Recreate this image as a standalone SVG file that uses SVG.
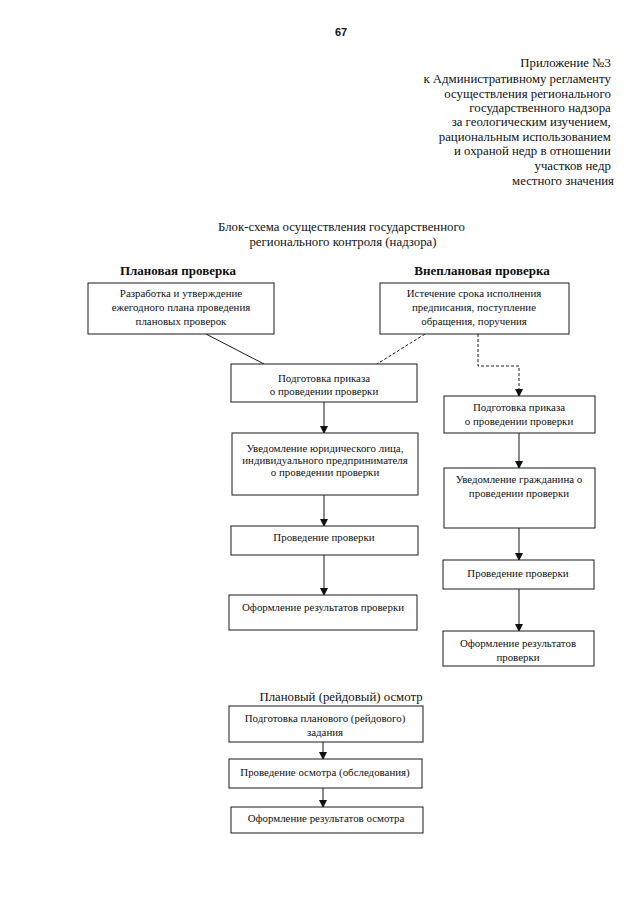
<svg xmlns="http://www.w3.org/2000/svg" width="640" height="905" viewBox="0 0 640 905">
<defs>
<style>
.bx{fill:#fff;stroke:#1a1a1a;stroke-width:1}
.t{font-family:"Liberation Serif","Times New Roman",serif;font-size:10.9px;fill:#111;text-anchor:middle}
.h{font-family:"Liberation Serif","Times New Roman",serif;font-size:12.8px;fill:#111}
.hb{font-family:"Liberation Serif","Times New Roman",serif;font-size:13px;font-weight:bold;fill:#111;text-anchor:middle}
.c{stroke:#1a1a1a;stroke-width:1;fill:none}
.d{stroke:#1a1a1a;stroke-width:1;fill:none;stroke-dasharray:3,2}
</style>
<marker id="ar" viewBox="0 0 8 8" refX="7" refY="4" markerWidth="8" markerHeight="8" markerUnits="userSpaceOnUse" orient="auto">
<path d="M0,0 L8,4 L0,8 z" fill="#111"/>
</marker>
</defs>
<rect width="640" height="905" fill="#fff"/>

<g id="header">
<text x="341" y="36" style="font-family:'Liberation Sans',Arial,sans-serif;font-size:11px;font-weight:bold;fill:#111" text-anchor="middle">67</text>
<text class="h" text-anchor="end">
<tspan x="614" y="67">Приложение №3</tspan>
<tspan x="614" y="83">к Административному регламенту</tspan>
<tspan x="614" y="98">осуществления регионального</tspan>
<tspan x="614" y="112">государственного надзора</tspan>
<tspan x="614" y="126">за геологическим изучением,</tspan>
<tspan x="614" y="141">рациональным использованием</tspan>
<tspan x="614" y="155">и охраной недр в отношении</tspan>
<tspan x="614" y="170">участков недр</tspan>
<tspan x="614" y="185">местного значения</tspan>
</text>
<text class="h" text-anchor="middle">
<tspan x="343" y="231">Блок-схема осуществления государственного</tspan>
<tspan x="343" y="246">регионального контроля (надзора)</tspan>
</text>
<text class="hb" x="178" y="275">Плановая проверка</text>
<text class="hb" x="482" y="275">Внеплановая проверка</text>
<text class="h" x="341" y="701" text-anchor="middle">Плановый (рейдовый) осмотр</text>
</g>

<g id="connectors">
<line class="c" x1="206" y1="334" x2="264" y2="364"/>
<line class="d" x1="425" y1="334" x2="377" y2="364"/>
<polyline class="d" points="478,334 478,366 519,366 519,396" marker-end="url(#ar)"/>
<line class="c" x1="324" y1="402" x2="324" y2="433" marker-end="url(#ar)"/>
<line class="c" x1="324" y1="495" x2="324" y2="526" marker-end="url(#ar)"/>
<line class="c" x1="324" y1="555" x2="324" y2="595" marker-end="url(#ar)"/>
<line class="c" x1="519" y1="433" x2="519" y2="468" marker-end="url(#ar)"/>
<line class="c" x1="519" y1="528" x2="519" y2="560" marker-end="url(#ar)"/>
<line class="c" x1="519" y1="589" x2="519" y2="631" marker-end="url(#ar)"/>
<line class="c" x1="323" y1="742" x2="323" y2="759" marker-end="url(#ar)"/>
<line class="c" x1="323" y1="788" x2="323" y2="807" marker-end="url(#ar)"/>
</g>

<g id="plan_dev">
<rect class="bx" x="88" y="283" width="186" height="51"/>
<text class="t"><tspan x="181" y="297">Разработка и утверждение</tspan><tspan x="181" y="311">ежегодного плана проведения</tspan><tspan x="181" y="325">плановых проверок</tspan></text>
</g>
<g id="unplan_reason">
<rect class="bx" x="380" y="283" width="189" height="51"/>
<text class="t"><tspan x="474" y="297">Истечение срока исполнения</tspan><tspan x="474" y="311">предписания, поступление</tspan><tspan x="474" y="325">обращения, поручения</tspan></text>
</g>
<g id="order_left">
<rect class="bx" x="231" y="364" width="186" height="38"/>
<text class="t"><tspan x="324" y="382">Подготовка приказа</tspan><tspan x="324" y="395">о проведении проверки</tspan></text>
</g>
<g id="notify_legal">
<rect class="bx" x="232" y="433" width="186" height="62"/>
<text class="t"><tspan x="325" y="452">Уведомление юридического лица,</tspan><tspan x="325" y="464">индивидуального предпринимателя</tspan><tspan x="325" y="476">о проведении проверки</tspan></text>
</g>
<g id="inspect_left">
<rect class="bx" x="231" y="526" width="187" height="29"/>
<text class="t" x="324" y="541">Проведение проверки</text>
</g>
<g id="result_left">
<rect class="bx" x="229" y="595" width="188" height="35"/>
<text class="t" x="323" y="611">Оформление результатов проверки</text>
</g>
<g id="order_right">
<rect class="bx" x="444" y="396" width="151" height="37"/>
<text class="t"><tspan x="519" y="411">Подготовка приказа</tspan><tspan x="519" y="425">о проведении проверки</tspan></text>
</g>
<g id="notify_citizen">
<rect class="bx" x="444" y="468" width="151" height="60"/>
<text class="t"><tspan x="519" y="483">Уведомление гражданина о</tspan><tspan x="519" y="497">проведении проверки</tspan></text>
</g>
<g id="inspect_right">
<rect class="bx" x="443" y="560" width="151" height="29"/>
<text class="t" x="518" y="577">Проведение проверки</text>
</g>
<g id="result_right">
<rect class="bx" x="443" y="631" width="151" height="35"/>
<text class="t"><tspan x="518" y="647">Оформление результатов</tspan><tspan x="518" y="661">проверки</tspan></text>
</g>
<g id="raid_task">
<rect class="bx" x="229" y="706" width="194" height="36"/>
<text class="t"><tspan x="325" y="722">Подготовка планового (рейдового)</tspan><tspan x="325" y="736">задания</tspan></text>
</g>
<g id="raid_inspect">
<rect class="bx" x="229" y="759" width="193" height="29"/>
<text class="t" x="325" y="776">Проведение осмотра (обследования)</text>
</g>
<g id="raid_result">
<rect class="bx" x="231" y="807" width="192" height="26"/>
<text class="t" x="326" y="822">Оформление результатов осмотра</text>
</g>
</svg>
